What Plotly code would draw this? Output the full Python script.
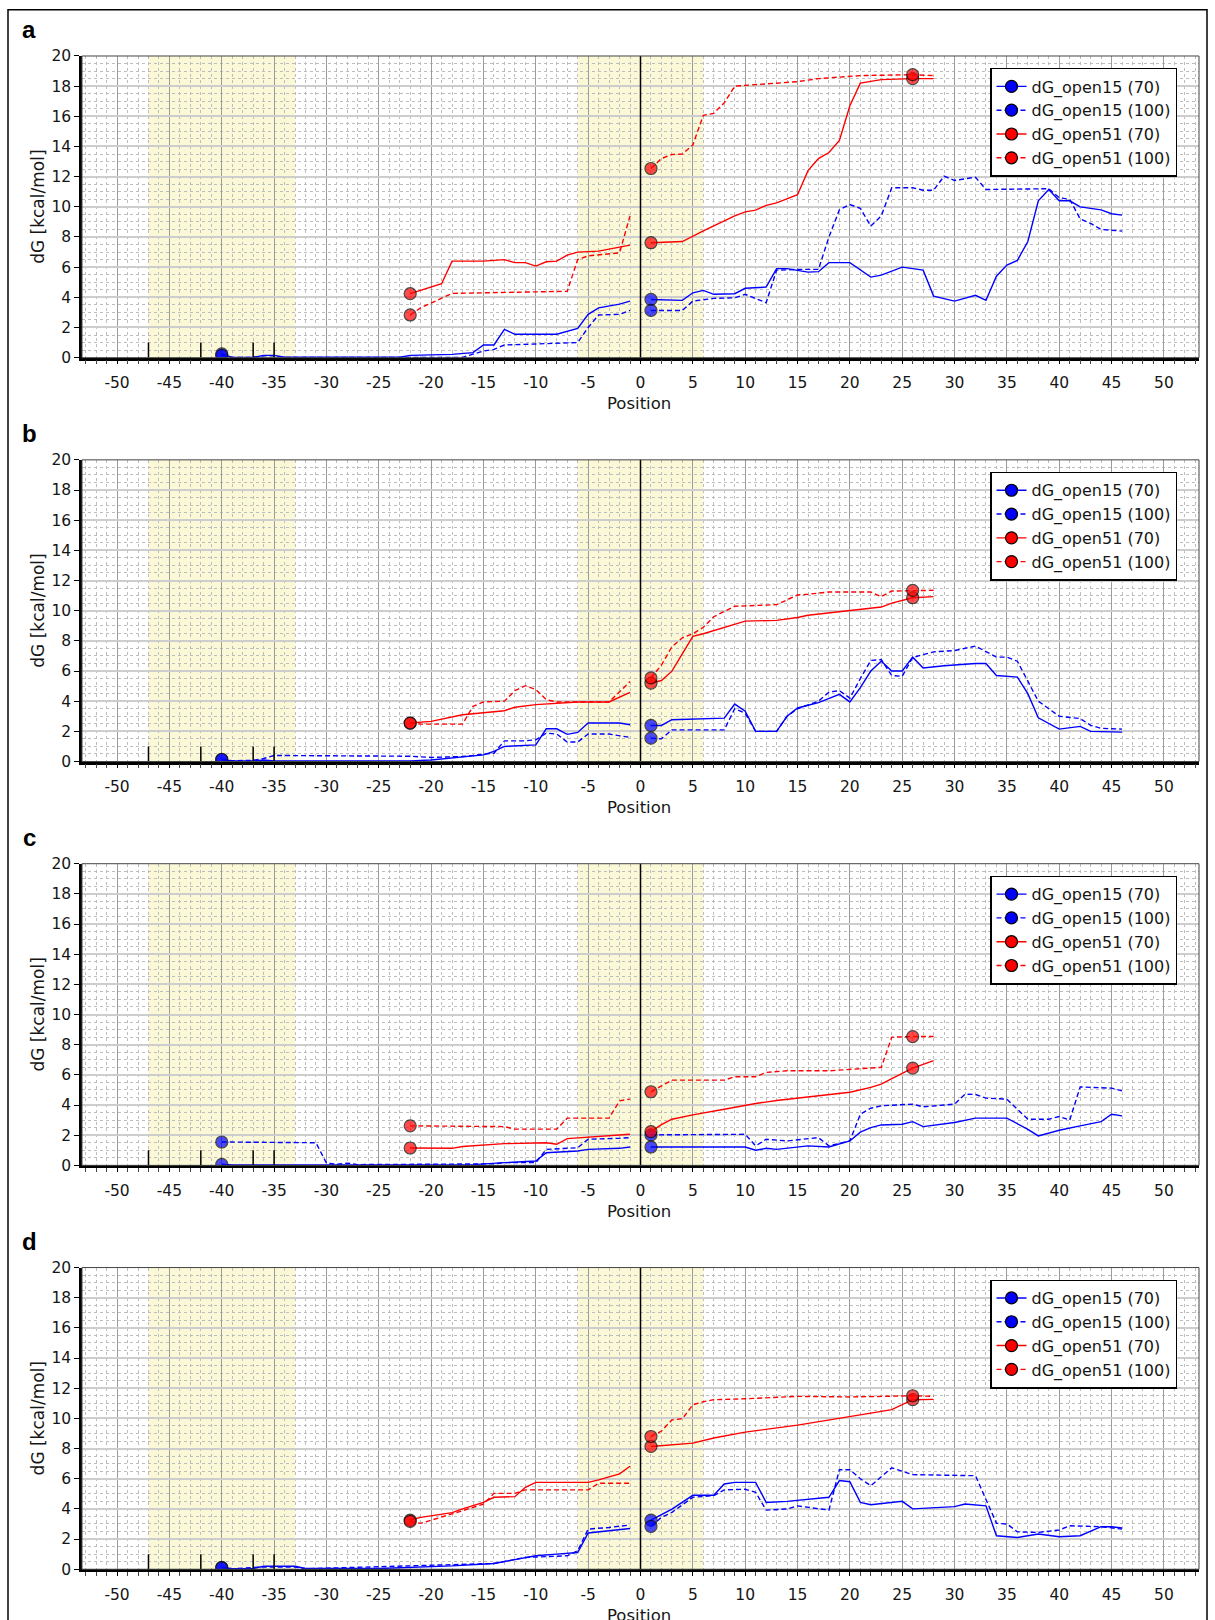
import plotly.graph_objects as go

FIG_W, FIG_H = 1215, 1620

# ---------------- panel a ----------------
A15_70_X = [-40, -39, -37, -36, -35, -34, -23, -22, -18, -16, -15, -14, -13, -12, -8, -6, -5, -4, -2, -1, None,
            1, 4, 5, 6, 7, 9, 10, 12, 13, 14, 16, 17, 18, 20, 22, 23, 25, 27, 28, 30, 32, 33, 34, 35, 36, 37, 38,
            39, 40, 41, 42, 44, 45, 46]
A15_70_Y = [0.25, 0.02, 0.02, 0.15, 0.15, 0.03, 0.03, 0.15, 0.22, 0.33, 0.84, 0.84, 1.88, 1.55, 1.55, 1.94, 2.87,
            3.3, 3.55, 3.75, None,
            3.86, 3.8, 4.3, 4.46, 4.2, 4.24, 4.6, 4.68, 5.9, 5.9, 5.67, 5.7, 6.3, 6.3, 5.34, 5.47, 6.0, 5.8, 4.08,
            3.75, 4.13, 3.8, 5.4, 6.14, 6.45, 7.7, 10.4, 11.15, 10.4, 10.4, 10.0, 9.8, 9.54, 9.45]
A15_100_X = [-40, -39, -37, -36, -35, -34, -17, -16, -15, -14, -13, -6, -5, -4, -2, -1, None,
             1, 4, 5, 6, 7, 9, 10, 12, 13, 15, 17, 18, 19, 20, 21, 22, 23, 24, 26, 27, 28, 29, 30, 32, 33, 39, 40,
             41, 42, 43, 44, 46]
A15_100_Y = [0.15, 0.02, 0.02, 0.12, 0.12, 0.02, 0.02, 0.22, 0.44, 0.55, 0.84, 1.0, 2.0, 2.83, 2.87, 3.13, None,
             3.13, 3.13, 3.75, 3.85, 3.93, 3.97, 4.2, 3.64, 5.8, 5.85, 5.85, 8.0, 9.8, 10.15, 9.9, 8.72, 9.4, 11.26,
             11.26, 11.1, 11.1, 12.03, 11.75, 11.96, 11.15, 11.2, 10.6, 10.5, 9.2, 8.9, 8.5, 8.39]
A51_70_X = [-22, -19, -18, -15, -13, -12, -11, -10, -9, -8, -7, -6, -4, -2, -1, None,
            1, 4, 6, 8, 9, 10, 11, 12, 13, 15, 16, 17, 18, 19, 20, 21, 23, 26, 28]
A51_70_Y = [4.24, 4.9, 6.4, 6.4, 6.5, 6.3, 6.3, 6.07, 6.36, 6.4, 6.8, 7.0, 7.06, 7.3, 7.46, None,
            7.62, 7.7, 8.4, 9.1, 9.4, 9.67, 9.78, 10.1, 10.26, 10.8, 12.4, 13.2, 13.6, 14.4, 16.7, 18.2, 18.43,
            18.5, 18.5]
A51_100_X = [-22, -21, -18, -7, -6, -5, -2, -1, None,
             1, 2, 3, 4, 5, 6, 7, 8, 9, 11, 15, 17, 21, 26, 28]
A51_100_Y = [2.83, 3.3, 4.26, 4.4, 6.5, 6.75, 6.95, 9.4, None,
             12.54, 13.2, 13.47, 13.5, 14.1, 16.07, 16.2, 16.9, 18.0, 18.1, 18.3, 18.5, 18.7, 18.76, 18.7]

# ---------------- panel b ----------------
B15_70_X = [-40, -39, -37, -36, -35, -23, -22, -20, -17, -15, -14, -13, -10, -9, -8, -7, -6, -5, -2, -1, None,
            1, 2, 3, 8, 9, 10, 11, 13, 14, 15, 17, 19, 20, 21, 22, 23, 24, 25, 26, 27, 29, 32, 33, 34, 36, 37, 38,
            39, 40, 42, 43, 46]
B15_70_Y = [0.12, 0.03, 0.03, 0.1, 0.03, 0.02, 0.04, 0.1, 0.33, 0.44, 0.67, 1.0, 1.1, 2.17, 2.17, 1.8, 1.93, 2.55,
            2.55, 2.44, None,
            2.39, 2.39, 2.77, 2.88, 3.81, 3.33, 2.0, 2.0, 3.0, 3.55, 3.9, 4.45, 3.95, 4.9, 6.0, 6.65, 6.0, 6.0,
            6.92, 6.2, 6.35, 6.5, 6.5, 5.7, 5.6, 4.5, 2.9, 2.5, 2.15, 2.33, 2.0, 1.95]
B15_100_X = [-40, -39, -37, -36, -35, -25, -22, -20, -17, -14, -13, -11, -10, -9, -8, -7, -6, -5, -3, -1, None,
             1, 2, 3, 8, 9, 10, 11, 13, 14, 15, 17, 18, 19, 20, 21, 22, 23, 24, 25, 26, 28, 30, 32, 34, 35, 36, 38,
             40, 42, 43, 44, 46]
B15_100_Y = [0.15, 0.05, 0.08, 0.2, 0.4, 0.38, 0.35, 0.27, 0.33, 0.55, 1.37, 1.37, 1.44, 1.88, 1.82, 1.29, 1.29,
             1.82, 1.82, 1.6, None,
             1.55, 1.5, 2.1, 2.1, 3.5, 3.2, 2.0, 2.0, 3.0, 3.5, 4.0, 4.6, 4.7, 4.2, 5.5, 6.7, 6.76, 5.7, 5.65, 6.9,
             7.27, 7.36, 7.65, 6.92, 6.92, 6.65, 4.0, 3.0, 2.85, 2.4, 2.2, 2.15]
B51_70_X = [-22, -20, -17, -13, -12, -10, -6, -3, -1, None,
            1, 2, 3, 4, 5, 6, 8, 10, 13, 15, 16, 20, 23, 24, 26, 28]
B51_70_Y = [2.55, 2.66, 3.1, 3.37, 3.6, 3.77, 3.95, 3.95, 4.59, None,
            5.2, 5.37, 5.99, 7.1, 8.3, 8.47, 8.87, 9.31, 9.36, 9.55, 9.7, 10.0, 10.24, 10.5, 10.86, 10.93]
B51_100_X = [-22, -21, -17, -16, -15, -13, -12, -11, -10, -9, -8, -3, -1, None,
             1, 2, 3, 4, 5, 6, 7, 8, 9, 13, 15, 16, 18, 22, 23, 24, 26, 28]
B51_100_Y = [2.55, 2.48, 2.48, 3.66, 3.95, 4.0, 4.7, 5.03, 4.77, 4.1, 3.95, 3.95, 5.3, None,
             5.54, 6.4, 7.6, 8.2, 8.47, 8.9, 9.6, 9.93, 10.29, 10.4, 11.04, 11.09, 11.24, 11.24, 10.93, 11.3,
             11.35, 11.35]

# ---------------- panel c ----------------
C15_70_X = [-40, -39, -16, -15, -13, -10, -9, -6, -5, -2, -1, None,
            1, 10, 11, 12, 13, 16, 18, 20, 21, 22, 23, 25, 26, 27, 30, 32, 35, 37, 38, 40, 42, 44, 45, 46]
C15_70_Y = [0.07, 0.02, 0.05, 0.11, 0.18, 0.29, 0.84, 0.95, 1.06, 1.13, 1.22, None,
            1.22, 1.22, 1.0, 1.13, 1.06, 1.29, 1.22, 1.62, 2.2, 2.5, 2.68, 2.73, 2.9, 2.57, 2.84, 3.13, 3.13,
            2.39, 1.95, 2.33, 2.62, 2.9, 3.39, 3.28]
C15_100_X = [-40, -31, -30, -29, -28, -27, -14, -13, -10, -9, -6, -5, -2, -1, None,
             1, 10, 11, 12, 14, 17, 18, 20, 21, 22, 23, 26, 27, 30, 31, 32, 33, 35, 37, 39, 40, 41, 42, 45, 46]
C15_100_Y = [1.55, 1.5, 0.15, 0.07, 0.15, 0.05, 0.1, 0.18, 0.18, 1.06, 1.17, 1.73, 1.8, 1.84, None,
             2.02, 2.06, 1.29, 1.73, 1.62, 1.84, 1.29, 1.62, 3.39, 3.79, 3.95, 4.06, 3.88, 4.06, 4.72, 4.7, 4.46,
             4.39, 3.06, 3.06, 3.24, 3.0, 5.2, 5.12, 4.94]
C51_70_X = [-22, -18, -17, -13, -9, -8, -7, -5, -2, -1, None,
            1, 2, 3, 5, 8, 11, 13, 16, 20, 22, 23, 24, 26, 28]
C51_70_Y = [1.15, 1.13, 1.25, 1.44, 1.5, 1.4, 1.77, 1.88, 2.0, 2.06, None,
            2.24, 2.7, 3.06, 3.35, 3.72, 4.1, 4.3, 4.55, 4.85, 5.17, 5.39, 5.75, 6.45, 6.94]
C51_100_X = [-22, -13, -12, -8, -7, -3, -2, -1, None,
             1, 2, 3, 8, 9, 11, 12, 14, 18, 23, 24, 26, 28]
C51_100_Y = [2.62, 2.57, 2.4, 2.4, 3.13, 3.13, 4.28, 4.39, None,
             4.88, 5.28, 5.65, 5.65, 5.88, 5.88, 6.16, 6.27, 6.27, 6.5, 8.5, 8.54, 8.54]

# ---------------- panel d ----------------
D15_70_X = [-40, -39, -37, -36, -33, -32, -25, -18, -14, -12, -10, -8, -6, -5, -3, -1, None,
            1, 2, 3, 5, 7, 8, 9, 11, 12, 14, 18, 19, 20, 21, 22, 25, 26, 30, 31, 33, 34, 36, 38, 40, 42, 44, 45, 46]
D15_70_Y = [0.12, 0.03, 0.05, 0.2, 0.2, 0.05, 0.05, 0.22, 0.38, 0.65, 0.89, 1.0, 1.11, 2.4, 2.55, 2.7, None,
            3.26, 3.6, 3.99, 4.9, 4.9, 5.65, 5.76, 5.76, 4.43, 4.5, 4.77, 5.88, 5.8, 4.43, 4.28, 4.5, 4.0, 4.15,
            4.32, 4.2, 2.22, 2.1, 2.33, 2.15, 2.22, 2.82, 2.82, 2.73]
D15_100_X = [-40, -39, -36, -33, -32, -18, -14, -11, -10, -8, -7, -6, -5, -3, -1, None,
             1, 2, 3, 5, 7, 8, 10, 11, 12, 14, 15, 18, 19, 20, 21, 22, 24, 26, 32, 33, 34, 35, 36, 38, 40, 41, 44, 46]
D15_100_Y = [0.1, 0.03, 0.15, 0.15, 0.03, 0.3, 0.38, 0.78, 0.82, 0.89, 0.89, 1.22, 2.66, 2.77, 2.93, None,
             2.84, 3.44, 3.77, 4.77, 4.88, 5.26, 5.3, 5.1, 3.92, 3.99, 4.2, 3.92, 6.6, 6.6, 6.0, 5.54, 6.72, 6.27,
             6.2, 4.6, 3.05, 3.0, 2.48, 2.44, 2.6, 2.88, 2.82, 2.66]
D51_70_X = [-22, -21, -18, -17, -15, -14, -12, -11, -10, -5, -4, -3, -2, -1, None,
            1, 3, 5, 7, 10, 15, 20, 22, 24, 26, 28]
D51_70_Y = [3.26, 3.44, 3.75, 4.0, 4.43, 4.77, 4.81, 5.43, 5.76, 5.76, 5.92, 6.1, 6.32, 6.83, None,
            8.14, 8.27, 8.36, 8.7, 9.09, 9.55, 10.09, 10.35, 10.58, 11.24, 11.26]
D51_100_X = [-22, -21, -17, -15, -14, -12, -11, -5, -4, -1, None,
             1, 2, 3, 4, 5, 6, 7, 10, 15, 20, 26, 28]
D51_100_Y = [3.17, 3.04, 3.88, 4.32, 5.03, 5.03, 5.26, 5.26, 5.7, 5.7, None,
             8.8, 9.16, 9.9, 9.98, 10.9, 11.1, 11.24, 11.3, 11.46, 11.42, 11.5, 11.46]

PANELS = [
    ("a", [(A15_70_X, A15_70_Y), (A15_100_X, A15_100_Y), (A51_70_X, A51_70_Y), (A51_100_X, A51_100_Y)]),
    ("b", [(B15_70_X, B15_70_Y), (B15_100_X, B15_100_Y), (B51_70_X, B51_70_Y), (B51_100_X, B51_100_Y)]),
    ("c", [(C15_70_X, C15_70_Y), (C15_100_X, C15_100_Y), (C51_70_X, C51_70_Y), (C51_100_X, C51_100_Y)]),
    ("d", [(D15_70_X, D15_70_Y), (D15_100_X, D15_100_Y), (D51_70_X, D51_70_Y), (D51_100_X, D51_100_Y)]),
]

SERIES_NAMES = ["dG_open15 (70)", "dG_open15 (100)", "dG_open51 (70)", "dG_open51 (100)"]
SERIES_COLORS = ["#0000ff", "#0000ff", "#ff0000", "#ff0000"]
SERIES_DASH = ["solid", "5px,3px", "solid", "5px,3px"]
MARKED_POS = [[-40, 1], [-40, 1], [-22, 1, 26], [-22, 1, 26]]

X_TICK_VALS = list(range(-50, 51, 5))
X_TICK_TEXT = [str(v) for v in X_TICK_VALS]
Y_TICK_VALS = list(range(0, 21, 2))
Y_TICK_TEXT = [str(v) for v in Y_TICK_VALS]

SHADED_SPANS = [(-47, -33), (-6, 6)]
ELEMENT_POS = [-47, -42, -37, -35]
ELEMENT_HEIGHT = 1.0

X_RANGE = [-53.35, 53.35]
Y_RANGE = [0, 20]

# horizontal layout (px)
PLOT_LEFT, PLOT_RIGHT = 82, 1199
# vertical layout, in page px; the page shows the figure offset and slightly compressed
PAGE_TOP, PAGE_VSCALE = 8.0, 0.989
PANEL_TOP0, PANEL_STEP, PANEL_H = 55, 403.9, 301.7


def py(px):
    """paper y-coordinate for a vertical page position given in px"""
    return 1 - ((px - PAGE_TOP) / PAGE_VSCALE) / FIG_H


FONT = "DejaVu Sans"
TXT = "#151515"
MARKER_SIZE = 12

fig = go.Figure()
layout = dict(
    width=FIG_W, height=FIG_H,
    margin=dict(l=0, r=0, t=0, b=0),
    paper_bgcolor="white", plot_bgcolor="white",
    showlegend=True,
    font=dict(family=FONT, size=15, color=TXT),
)
shapes, annotations = [], []

for k, (label, series) in enumerate(PANELS):
    sfx = "" if k == 0 else str(k + 1)
    xa, ya = "x" + sfx, "y" + sfx
    leg = "legend" + sfx
    top = PANEL_TOP0 + k * PANEL_STEP
    bot = top + PANEL_H

    for (xs, ys), name, color, dash, marks in zip(series, SERIES_NAMES, SERIES_COLORS, SERIES_DASH, MARKED_POS):
        sizes = [MARKER_SIZE if (x is not None and x in marks) else 0 for x in xs]
        lws = [1.2 if (x is not None and x in marks) else 0 for x in xs]
        fig.add_trace(go.Scatter(
            x=xs, y=ys, mode="lines+markers", name=name,
            xaxis=xa, yaxis=ya, showlegend=False,
            line=dict(color=color, width=1.4, dash=dash),
            marker=dict(symbol="circle", size=sizes, color=color, line=dict(color="black", width=lws)),
            connectgaps=False, hoverinfo="skip",
        ))
        # legend key (line + marker), carries no data of its own
        fig.add_trace(go.Scatter(
            x=[None], y=[None], mode="lines+markers", name=name,
            xaxis=xa, yaxis=ya, legend=leg, showlegend=True,
            line=dict(color=color, width=1.4, dash=dash),
            marker=dict(symbol="circle", size=MARKER_SIZE, color=color, line=dict(color="black", width=1.2)),
            hoverinfo="skip",
        ))

    layout["xaxis" + sfx] = dict(
        domain=[PLOT_LEFT / FIG_W, PLOT_RIGHT / FIG_W], anchor=ya, range=X_RANGE,
        tickmode="array", tickvals=X_TICK_VALS, ticktext=X_TICK_TEXT,
        ticks="outside", ticklen=4, tickwidth=1, tickcolor="black",
        ticklabelstandoff=5,
        showline=True, linecolor="black", linewidth=2.5,
        showgrid=True, gridcolor="#9c9c9c", gridwidth=1.3, zeroline=False,
        minor=dict(tick0=0, dtick=1, ticks="outside", ticklen=4, tickcolor="#444", tickwidth=1,
                   showgrid=True, gridcolor="#bdbdbd", griddash="dot", gridwidth=1),
        tickfont=dict(family=FONT, size=15.5, color=TXT), fixedrange=True,
    )
    layout["yaxis" + sfx] = dict(
        domain=[py(bot), py(top)], anchor=xa, range=Y_RANGE,
        tickmode="array", tickvals=Y_TICK_VALS, ticktext=Y_TICK_TEXT,
        ticks="outside", ticklen=5, tickwidth=1, tickcolor="black",
        showline=True, linecolor="black", linewidth=2.5,
        showgrid=True, gridcolor="#cdcdcd", gridwidth=2, zeroline=False,
        minor=dict(tick0=0, dtick=0.5, showgrid=True, gridcolor="#bdbdbd", griddash="dot", gridwidth=1),
        tickfont=dict(family=FONT, size=15.5, color=TXT), fixedrange=True,
    )
    layout[leg] = dict(
        x=1177 / FIG_W, xanchor="right", y=py(top + 12), yanchor="top",
        bgcolor="white", bordercolor="black", borderwidth=1.5,
        font=dict(family=FONT, size=16, color=TXT),
        tracegroupgap=0,
    )

    for x0, x1 in SHADED_SPANS:
        shapes.append(dict(type="rect", xref=xa, yref=ya + " domain", x0=x0, x1=x1, y0=0, y1=1,
                           fillcolor="rgb(250,248,214)", line=dict(width=0), layer="below"))
    shapes.append(dict(type="line", xref=xa, yref=ya + " domain", x0=0, x1=0, y0=0, y1=1,
                       line=dict(color="black", width=1.5), layer="above"))
    for p in ELEMENT_POS:
        shapes.append(dict(type="line", xref=xa, yref=ya, x0=p, x1=p, y0=0, y1=ELEMENT_HEIGHT,
                           line=dict(color="black", width=1.5), layer="above"))
    shapes.append(dict(type="rect", xref=xa + " domain", yref=ya + " domain", x0=0, x1=1, y0=0, y1=1,
                       line=dict(color="#444444", width=1), layer="above"))

    annotations.append(dict(text="<b>%s</b>" % label, xref="paper", yref="paper",
                            x=29 / FIG_W, y=py(top - 26), xanchor="center", yanchor="middle",
                            showarrow=False, font=dict(family="Liberation Sans", size=24, color="black")))
    annotations.append(dict(text="dG [kcal/mol]", xref="paper", yref="paper", textangle=-90,
                            x=38 / FIG_W, y=py(top + PANEL_H / 2), xanchor="center", yanchor="middle",
                            showarrow=False, font=dict(family=FONT, size=17, color=TXT)))
    annotations.append(dict(text="Position", xref="paper", yref="paper",
                            x=639 / FIG_W, y=py(bot + 46), xanchor="center", yanchor="middle",
                            showarrow=False, font=dict(family=FONT, size=16.5, color=TXT)))

# outer frame of the figure
shapes.append(dict(type="rect", xref="paper", yref="paper", x0=8 / FIG_W, x1=1207 / FIG_W,
                   y0=-0.05, y1=py(8.8), line=dict(color="black", width=1.5), layer="above"))

layout["shapes"] = shapes
layout["annotations"] = annotations
fig.update_layout(**layout)
fig.write_html("out.html", config={"displayModeBar": False})
